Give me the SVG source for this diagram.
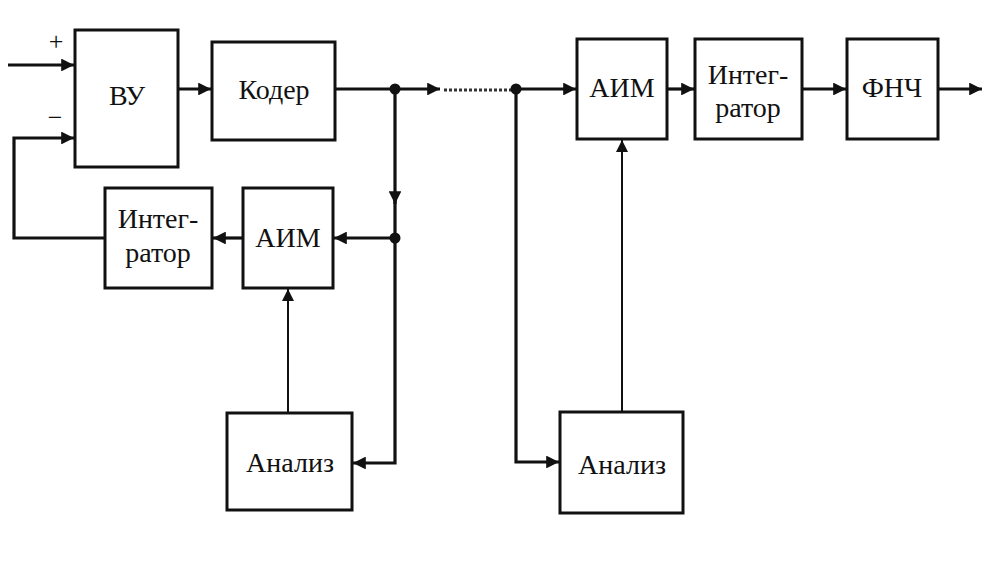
<svg xmlns="http://www.w3.org/2000/svg" width="992" height="565" viewBox="0 0 992 565">
<defs>
<marker id="ah" viewBox="0 0 10 10" refX="10" refY="5" markerWidth="4.5" markerHeight="4" markerUnits="strokeWidth" orient="auto">
<path d="M0,0 L10,5 L0,10 z" fill="#111"/>
</marker>
<marker id="ahs" viewBox="0 0 10 10" refX="10" refY="5" markerWidth="7" markerHeight="6" markerUnits="strokeWidth" orient="auto">
<path d="M0,0 L10,5 L0,10 z" fill="#111"/>
</marker>
<style>
.box{fill:#fff;stroke:#111;stroke-width:3}
.t{font-family:"Liberation Serif","Times New Roman",serif;font-size:28px;fill:#111;text-anchor:middle}
.c{fill:none;stroke:#111;stroke-width:3.2}
.thin{fill:none;stroke:#111;stroke-width:2}
.s{font-family:"Liberation Serif","Times New Roman",serif;font-size:26px;fill:#111;text-anchor:middle}
</style>
</defs>
<rect width="992" height="565" fill="#fff"/>
<g id="connectors">
<path class="c" d="M8,65 H74" marker-end="url(#ah)"/>
<path class="c" d="M105,238 H14 V138 H74" marker-end="url(#ah)"/>
<path class="c" d="M178,89 H211" marker-end="url(#ah)"/>
<path class="c" d="M335,89 H440" marker-end="url(#ah)"/>
<path d="M444,90 H512" fill="none" stroke="#333" stroke-width="3" stroke-dasharray="3,2"/>
<path class="c" d="M516,89 H576" marker-end="url(#ah)"/>
<path class="c" d="M667,89 H694" marker-end="url(#ah)"/>
<path class="c" d="M802,89 H846" marker-end="url(#ah)"/>
<path class="c" d="M938,89 H982" marker-end="url(#ah)"/>
<path class="c" d="M395,89 V204" marker-end="url(#ah)"/>
<path class="c" d="M395,200 V463 H353" marker-end="url(#ah)"/>
<path class="c" d="M395,238 H334" marker-end="url(#ah)"/>
<path class="c" d="M243,238 H213" marker-end="url(#ah)"/>
<path class="thin" d="M288,412 V289" marker-end="url(#ahs)"/>
<path class="c" d="M516,89 V462 H559" marker-end="url(#ah)"/>
<path class="thin" d="M622,411 V140" marker-end="url(#ahs)"/>
<circle cx="395" cy="89" r="5.5" fill="#111"/>
<circle cx="516" cy="89" r="5.5" fill="#111"/>
<circle cx="395" cy="238" r="5.5" fill="#111"/>
<text class="s" x="56" y="50">+</text>
<text class="s" x="55" y="126">−</text>
</g>
<g id="vu"><rect class="box" x="75" y="30" width="103" height="137"/><text class="t" x="127" y="105">ВУ</text></g>
<g id="koder"><rect class="box" x="212" y="42" width="123" height="98"/><text class="t" x="274" y="99">Кодер</text></g>
<g id="integr1"><rect class="box" x="105" y="188" width="107" height="100"/><text class="t" x="158" y="228">Интег-</text><text class="t" x="158" y="262">ратор</text></g>
<g id="aim1"><rect class="box" x="243" y="188" width="90" height="100"/><text class="t" x="288" y="247">АИМ</text></g>
<g id="analiz1"><rect class="box" x="227" y="413" width="125" height="97"/><text class="t" x="290" y="472">Анализ</text></g>
<g id="aim2"><rect class="box" x="577" y="39" width="90" height="100"/><text class="t" x="622" y="97">АИМ</text></g>
<g id="integr2"><rect class="box" x="695" y="39" width="107" height="100"/><text class="t" x="748" y="84">Интег-</text><text class="t" x="748" y="117">ратор</text></g>
<g id="fnch"><rect class="box" x="847" y="39" width="91" height="100"/><text class="t" x="892" y="97">ФНЧ</text></g>
<g id="analiz2"><rect class="box" x="560" y="412" width="123" height="101"/><text class="t" x="622" y="474">Анализ</text></g>
</svg>
